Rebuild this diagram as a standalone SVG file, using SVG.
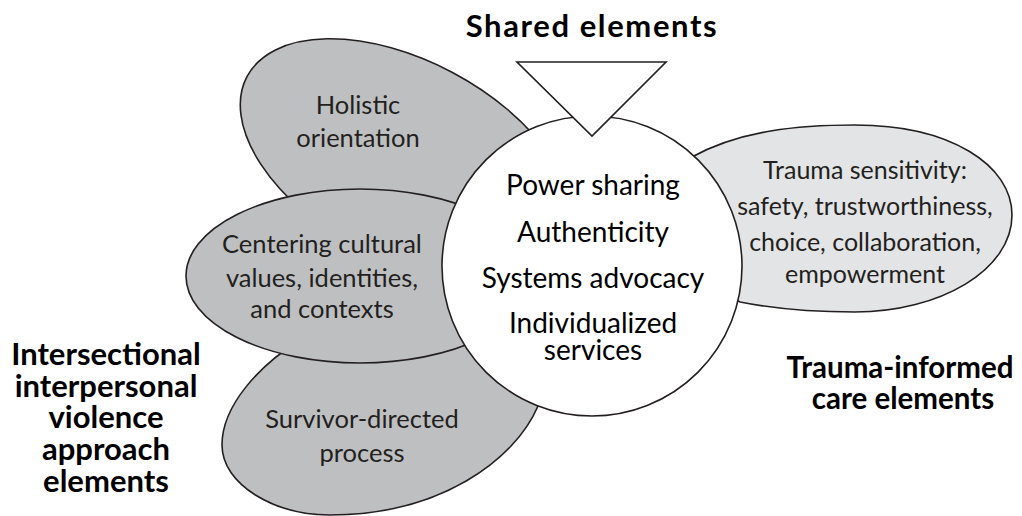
<svg xmlns="http://www.w3.org/2000/svg" width="1022" height="516" viewBox="0 0 1022 516">
<style>
.petal{fill:#bebfc1;stroke:#231f20;stroke-width:1.6}
.light{fill:#e3e4e5;stroke:#231f20;stroke-width:1.6}
.core{fill:#ffffff;stroke:#231f20;stroke-width:1.6}
.t{font-family:Lato,"Liberation Sans",sans-serif;font-size:25.5px;fill:#231f20;text-anchor:middle;font-weight:400}
.tr{font-size:25px}
.c{font-family:Lato,"Liberation Sans",sans-serif;font-size:28px;fill:#000;text-anchor:middle;font-weight:400}
.b{font-family:Lato,"Liberation Sans",sans-serif;font-size:31px;fill:#000;text-anchor:middle;font-weight:700}
.bs{font-size:31px;letter-spacing:1.6px}
.b2{font-size:29.5px}
</style>
<rect width="1022" height="516" fill="#ffffff"/>
<g id="holistic">
<ellipse class="petal" cx="406" cy="161" rx="180" ry="100" transform="rotate(28 406 161)"/>
<text class="t" x="358" y="114">Holistic</text>
<text class="t" x="358" y="147">orientation</text>
</g>
<g id="survivor">
<path class="petal" d="M560,380 L538,406 C515,460 440,515 330,515 C275,515 222,485 222,445 C222,405 260,365 300,340 L330,300 L500,266 Z"/>
<text class="t" x="362" y="428">Survivor-directed</text>
<text class="t" x="362" y="462">process</text>
</g>
<g id="centering">
<ellipse class="petal" cx="360" cy="276" rx="174" ry="87"/>
<text class="t" x="322" y="253">Centering cultural</text>
<text class="t" x="322" y="287">values, identities,</text>
<text class="t" x="322" y="318">and contexts</text>
</g>
<g id="trauma">
<path class="light" d="M690,158 C740,130 800,125 855,125 C950,125 1012,165 1012,215 C1012,270 940,312 855,312 C810,312 770,308 740,302 L700,280 Z"/>
<text class="t tr" x="865" y="179">Trauma sensitivity:</text>
<text class="t tr" x="865" y="215">safety, trustworthiness,</text>
<text class="t tr" x="865" y="251">choice, collaboration,</text>
<text class="t tr" x="865" y="283">empowerment</text>
</g>
<g id="shared">
<circle class="core" cx="592" cy="266" r="150"/>
<polygon class="core" points="517,62 666,62 592,136"/>
<text class="c" x="593" y="195">Power sharing</text>
<text class="c" x="593" y="242">Authenticity</text>
<text class="c" x="593" y="288">Systems advocacy</text>
<text class="c" x="593" y="333">Individualized</text>
<text class="c" x="593" y="360">services</text>
</g>
<g id="label-shared">
<text class="b bs" x="592" y="37">Shared elements</text>
</g>
<g id="label-ipv">
<text class="b" x="106" y="365">Intersectional</text>
<text class="b" x="106" y="397">interpersonal</text>
<text class="b" x="106" y="428">violence</text>
<text class="b" x="106" y="460">approach</text>
<text class="b" x="106" y="492">elements</text>
</g>
<g id="label-tic">
<text class="b b2" x="900" y="378">Trauma-informed</text>
<text class="b b2" x="903" y="409">care elements</text>
</g>
<g id="connectors"></g>
</svg>
